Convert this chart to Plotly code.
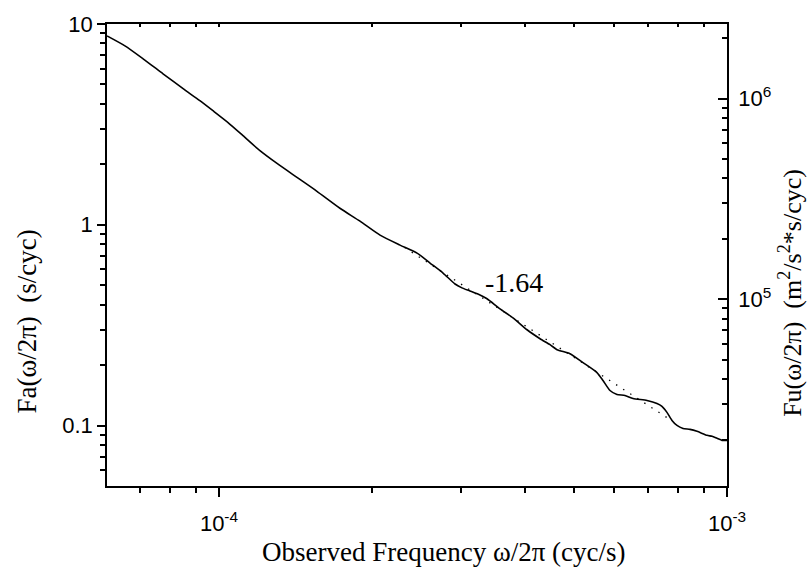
import numpy as np
import plotly.graph_objects as go

# Observed frequency (cyc/s) and spectral density Fa (s/cyc)
freq = [6.02e-5, 6.53e-5, 7.09e-5, 7.76e-5, 8.50e-5, 9.17e-5, 9.73e-5, 1.042e-4,
        1.115e-4, 1.204e-4, 1.301e-4, 1.424e-4, 1.559e-4, 1.730e-4, 1.895e-4,
        2.075e-4, 2.272e-4, 2.454e-4, 2.603e-4, 2.761e-4, 2.915e-4, 3.008e-4,
        3.119e-4, 3.264e-4, 3.370e-4, 3.574e-4, 3.791e-4, 4.040e-4, 4.285e-4,
        4.484e-4, 4.628e-4, 4.908e-4, 5.206e-4, 5.547e-4, 5.700e-4, 5.884e-4,
        6.073e-4, 6.297e-4, 6.531e-4, 6.958e-4, 7.281e-4, 7.447e-4, 7.618e-4,
        7.793e-4, 7.972e-4, 8.192e-4, 8.457e-4, 8.729e-4, 9.135e-4, 9.344e-4,
        9.557e-4, 9.777e-4, 1.0e-3]
fa = [8.72, 7.78, 6.71, 5.65, 4.76, 4.15, 3.70, 3.23,
      2.78, 2.34, 2.02, 1.722, 1.468, 1.209, 1.042,
      0.888, 0.792, 0.723, 0.645, 0.575, 0.507, 0.485,
      0.468, 0.447, 0.428, 0.381, 0.344, 0.300, 0.2707,
      0.2528, 0.2388, 0.2281, 0.2058, 0.1836, 0.1676, 0.1495,
      0.1428, 0.1412, 0.1364, 0.1334, 0.1289, 0.1246, 0.1163,
      0.1061, 0.1002, 0.0968, 0.0957, 0.0936, 0.0894, 0.0884,
      0.0864, 0.0844, 0.0844]

# Power-law fit: slope and anchor point
fit_slope = -1.64
fit_freq = [2.32e-4, 7.8e-4]
fit_anchor_freq = 2.377e-4
fit_anchor_fa = 0.74

# Conversion from Fa to Fu units for the right-hand axis
fu_per_fa = 2.35e5

x_range = [6.02e-5, 1.0e-3]
y_range = [0.05, 10.0]

x_major = [1e-4, 1e-3]
x_major_text = ["10<sup>-4</sup>", "10<sup>-3</sup>"]
x_minor = [7e-5, 8e-5, 9e-5] + [k * 1e-4 for k in range(2, 10)]
y_major = [0.1, 1, 10]
y_major_text = ["0.1", "1", "10"]
y_minor = [k * 0.01 for k in range(6, 10)] + [k * 0.1 for k in range(2, 10)] + [k * 1.0 for k in range(2, 10)]
y2_major = [1e5, 1e6]
y2_major_text = ["10<sup>5</sup>", "10<sup>6</sup>"]
y2_minor = [k * 1e4 for k in range(2, 10)] + [k * 1e5 for k in range(2, 10)] + [2e6]

x_title = "Observed Frequency \u03c9/2\u03c0 (cyc/s)"
y_title = "Fa(\u03c9/2\u03c0)  (s/cyc)"
y2_title = "Fu(\u03c9/2\u03c0)  (m<sup>2</sup>/s<sup>2</sup>*s/cyc)"

fit_fa = [fit_anchor_fa * (f / fit_anchor_freq) ** fit_slope for f in fit_freq]
fu = [v * fu_per_fa for v in fa]

fig = go.Figure()
fig.add_trace(go.Scatter(x=fit_freq, y=fit_fa, mode="lines",
                         line=dict(color="black", width=1.3, dash="1.4px,7px"),
                         hoverinfo="skip", showlegend=False))
fig.add_trace(go.Scatter(x=freq, y=fa, mode="lines",
                         line=dict(color="black", width=1.6, shape="spline", smoothing=0.6),
                         showlegend=False))
# invisible copies to attach the secondary axes
fig.add_trace(go.Scatter(x=freq, y=fu, mode="lines", yaxis="y2",
                         line=dict(color="rgba(0,0,0,0)", width=0),
                         hoverinfo="skip", showlegend=False))
fig.add_trace(go.Scatter(x=freq, y=fa, mode="lines", xaxis="x2",
                         line=dict(color="rgba(0,0,0,0)", width=0),
                         hoverinfo="skip", showlegend=False))

lx = [np.log10(v) for v in x_range]
ly = [np.log10(v) for v in y_range]
ly2 = [v + np.log10(fu_per_fa) for v in ly]

serif = "Liberation Serif, Times New Roman, serif"
tick_font = dict(family="Liberation Sans, Arial, sans-serif", size=22, color="black")

fig.update_layout(
    width=809, height=569,
    margin=dict(l=107, r=82, t=22, b=83),
    paper_bgcolor="white", plot_bgcolor="white",
    xaxis=dict(type="log", range=lx, showgrid=False, zeroline=False,
               showline=True, linecolor="black", linewidth=1.6, mirror=True,
               tickmode="array", tickvals=x_major, ticktext=x_major_text,
               ticks="outside", ticklen=9, tickwidth=1.5, tickcolor="black",
               tickfont=tick_font, ticklabelstandoff=8,
               minor=dict(tickmode="array", tickvals=x_minor, ticks="outside",
                          ticklen=5, tickwidth=1.5, tickcolor="black", showgrid=False)),
    xaxis2=dict(type="log", range=lx, overlaying="x", side="top", matches="x",
                showgrid=False, zeroline=False, showline=False,
                tickmode="array", tickvals=x_major + x_minor, ticks="inside",
                ticklen=3, tickwidth=1.5, tickcolor="black", showticklabels=False),
    yaxis=dict(type="log", range=ly, showgrid=False, zeroline=False,
               showline=True, linecolor="black", linewidth=1.6, mirror=False,
               tickmode="array", tickvals=y_major, ticktext=y_major_text,
               ticks="outside", ticklen=8, tickwidth=1.5, tickcolor="black",
               tickfont=tick_font,
               minor=dict(tickmode="array", tickvals=y_minor, ticks="outside",
                          ticklen=5, tickwidth=1.5, tickcolor="black", showgrid=False)),
    yaxis2=dict(type="log", range=ly2, overlaying="y", side="right",
                showgrid=False, zeroline=False,
                showline=True, linecolor="black", linewidth=1.6,
                tickmode="array", tickvals=y2_major, ticktext=y2_major_text,
                ticks="inside", ticklen=9, tickwidth=1.5, tickcolor="black",
                tickfont=tick_font, ticklabelstandoff=5,
                minor=dict(tickmode="array", tickvals=y2_minor, ticks="inside",
                           ticklen=5, tickwidth=1.5, tickcolor="black", showgrid=False)),
    annotations=[
        dict(x=np.log10(3.8e-4), y=np.log10(0.515), xref="x", yref="y",
             text="-1.64", showarrow=False,
             font=dict(family=serif, size=28, color="black")),
        dict(x=0.5435, y=-0.142, xref="paper", yref="paper", text=x_title,
             xanchor="center", yanchor="middle", showarrow=False,
             font=dict(family=serif, size=27, color="black")),
        dict(x=-0.129, y=0.356, xref="paper", yref="paper", text=y_title,
             textangle=-90, xanchor="center", yanchor="middle", showarrow=False,
             font=dict(family=serif, size=27, color="black")),
        dict(x=1.1032, y=0.418, xref="paper", yref="paper", text=y2_title,
             textangle=-90, xanchor="center", yanchor="middle", showarrow=False,
             font=dict(family=serif, size=26, color="black")),
    ],
)

fig.write_html("out.html")
